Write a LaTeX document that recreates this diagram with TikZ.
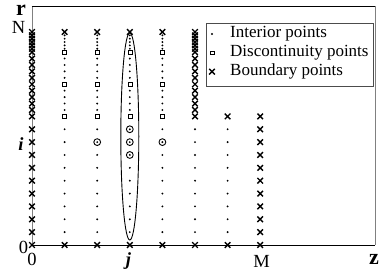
\documentclass[tikz,border=0pt]{standalone}
\usepackage{fontspec}
\setmainfont{Liberation Serif}
\usetikzlibrary{shapes.misc}

\newcommand{\legsize}{\fontsize{17}{20}\selectfont}
\newcommand{\labsize}{\fontsize{18.5}{22}\selectfont}
\newcommand{\bigsize}{\fontsize{22}{26}\selectfont}
\tikzset{
  intpt/.style={circle,fill,inner sep=0pt,minimum size=2.1pt},
  discpt/.style={rectangle,draw,line width=0.5pt,inner sep=0pt,minimum size=3.9pt},
  bdpt/.style={cross out,draw,line width=1.4pt,inner sep=0pt,minimum size=4.2pt},
  ringpt/.style={circle,draw,line width=0.9pt,inner sep=0pt,minimum size=6.8pt},
  axlab/.style={inner sep=0pt,font=\labsize},
}

\begin{document}
\begin{tikzpicture}[x=1pt,y=1pt,font=\legsize]
\useasboundingbox (-32,-26) rectangle (350,245);
% frame
\draw[gray,line width=0.8pt] (0,0) -- (0,239);
\draw[gray,line width=0.8pt] (343,0) -- (343,239);
\draw[line width=0.6pt] (0,239) -- (343,239);
\draw[line width=0.8pt] (0,0) -- (343,0);
% bottom row and the two boundary columns
\foreach \c in {0,...,7}
  \node[bdpt] (p\c-0) at (32.6*\c,0) {};
\foreach \k in {1,...,10} {
  \node[bdpt] (p0-\k) at (0,12.86*\k) {};
  \node[bdpt] (p7-\k) at (228.2,12.86*\k) {};
}
\node[bdpt] (p5-10) at (163,128.6) {};
\node[bdpt] (p6-10) at (195.6,128.6) {};
% interior rows
\foreach \k in {1,...,9}
  \foreach \c in {1,...,6}
    \node[intpt] (p\c-\k) at (32.6*\c,12.86*\k) {};
% upper rows, finer mesh
\foreach \m in {0,5,10}
  \foreach \c in {1,...,4}
    \node[discpt] (q\c-\m) at (32.6*\c,128.6+6.43*\m) {};
\foreach \m in {1,2,3,4,6,7,8,9}
  \foreach \c in {1,...,4}
    \node[intpt] (q\c-\m) at (32.6*\c,128.6+6.43*\m) {};
\foreach \m in {1,...,10} {
  \node[bdpt] (q0-\m) at (0,128.6+6.43*\m) {};
  \node[bdpt] (q5-\m) at (163,128.6+6.43*\m) {};
}
% top rows
\foreach \t in {1,...,6} {
  \node[bdpt] (t0-\t) at (0,192.9+3.35*\t) {};
  \node[bdpt] (t5-\t) at (163,192.9+3.35*\t) {};
}
\foreach \t in {1,...,5}
  \foreach \c in {1,...,4}
    \node[intpt] (t\c-\t) at (32.6*\c,192.9+3.35*\t) {};
\foreach \c in {1,...,4}
  \node[bdpt] (t\c-6) at (32.6*\c,213) {};
% stencil
\node[ringpt] (s1) at (97.8,90.02) {};
\node[ringpt] (s2) at (97.8,102.88) {};
\node[ringpt] (s3) at (97.8,115.74) {};
\node[ringpt] (s4) at (65.2,102.88) {};
\node[ringpt] (s5) at (130.4,102.88) {};
\draw[line width=0.9pt] (97.8,108.5) ellipse [x radius=9, y radius=103.5];
% legend
\draw[gray!60!black,line width=0.6pt] (174,159) rectangle (341,222);
\node[intpt] (leg-int-s) at (180,211) {};
\node[discpt] (leg-disc-s) at (180,192.3) {};
\node[bdpt] (leg-bd-s) at (180,173.3) {};
\node[inner sep=0pt,anchor=west] (leg-int) at (198,211) {Interior points};
\node[inner sep=0pt,anchor=west] (leg-disc) at (198,192.3) {Discontinuity points};
\node[inner sep=0pt,anchor=west] (leg-bd) at (198,173.3) {Boundary points};
% axis labels
\node[axlab,font=\bigsize\bfseries] (rlab) at (-11,235) {r};
\node[axlab] (Nlab) at (-13.5,217.5) {N};
\node[axlab,font=\labsize\bfseries\itshape] (ilab) at (-11,101) {i};
\node[axlab] (zero-r) at (-8.5,-2.5) {0};
\node[axlab] (zero-z) at (0,-14) {0};
\node[axlab,font=\labsize\bfseries\itshape] (jlab) at (96.5,-16.5) {j};
\node[axlab] (Mlab) at (229.5,-16) {M};
\node[axlab,font=\bigsize\bfseries] (zlab) at (342,-14.5) {z};
\end{tikzpicture}
\end{document}
